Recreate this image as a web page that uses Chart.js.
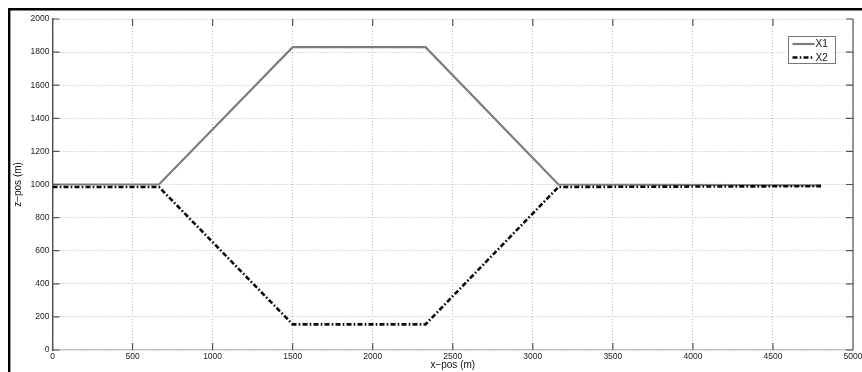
<!DOCTYPE html>
<html>
<head>
<meta charset="utf-8">
<title>Trajectory z-pos vs x-pos</title>
<script src="https://cdn.jsdelivr.net/npm/chart.js@4/dist/chart.umd.min.js"></script>
<style>
  html, body { margin: 0; padding: 0; background: #fff; }
  #wrap { width: 862px; height: 372px; }
</style>
</head>
<body>
<div id="wrap"><canvas id="plot" width="862" height="372"></canvas></div>
<script>
// Path nodes (x-pos in m) and heights (z-pos in m) for each track
const xNodesX1 = [0, 665, 1500, 2330, 3160, 4800];
const zValuesX1 = [1000, 1000, 1830, 1830, 1000, 995];
const xNodesX2 = [0, 665, 1500, 2330, 3160, 4800];
const zValuesX2 = [985, 985, 155, 155, 985, 990];

// Axis tick positions
const xTickValues = [0, 500, 1000, 1500, 2000, 2500, 3000, 3500, 4000, 4500, 5000];
const yTickValues = [0, 200, 400, 600, 800, 1000, 1200, 1400, 1600, 1800, 2000];

const seriesLabels = ['X1', 'X2'];

const FONT = "'Liberation Sans', Arial, Helvetica, sans-serif";

const toPoints = (xs, zs) => xs.map((v, i) => ({ x: v, y: zs[i] }));
const plainNumber = v => String(v);

// White page plus the heavy frame on the left and top edges
const framePlugin = {
  id: 'frame',
  beforeDraw(chart) {
    const { ctx, width, height } = chart;
    ctx.save();
    ctx.fillStyle = '#fff';
    ctx.fillRect(0, 0, width, height);
    ctx.restore();
  },
  afterDraw(chart) {
    const { ctx, width, height } = chart;
    ctx.save();
    ctx.strokeStyle = '#000';
    ctx.lineWidth = 2.4;
    ctx.beginPath();
    ctx.moveTo(9.2, 8);
    ctx.lineTo(9.2, height);
    ctx.moveTo(8, 9.2);
    ctx.lineTo(width, 9.2);
    ctx.stroke();
    ctx.restore();
  }
};

// Inward tick marks on all four sides and the right-hand box edge
const boxTicksPlugin = {
  id: 'boxTicks',
  afterDatasetsDraw(chart) {
    const { ctx, chartArea: { left, right, top, bottom }, scales: { x, y } } = chart;
    const len = 7;
    ctx.save();
    ctx.strokeStyle = '#555';
    ctx.lineWidth = 1.2;
    ctx.beginPath();
    ctx.moveTo(right, top);
    ctx.lineTo(right, bottom);
    x.ticks.forEach(t => {
      const px = x.getPixelForValue(t.value);
      ctx.moveTo(px, bottom);
      ctx.lineTo(px, bottom - len);
      ctx.moveTo(px, top);
      ctx.lineTo(px, top + len);
    });
    y.ticks.forEach(t => {
      const py = y.getPixelForValue(t.value);
      ctx.moveTo(left, py);
      ctx.lineTo(left + len, py);
      ctx.moveTo(right, py);
      ctx.lineTo(right - len, py);
    });
    ctx.stroke();
    ctx.restore();
  }
};

// Boxed legend in the upper-right corner of the plot
const boxLegendPlugin = {
  id: 'boxLegend',
  afterDraw(chart) {
    const { ctx } = chart;
    const bx = 788.5, by = 36.5, bw = 47, bh = 27;
    ctx.save();
    ctx.fillStyle = '#fff';
    ctx.fillRect(bx, by, bw, bh);
    ctx.strokeStyle = '#777';
    ctx.lineWidth = 1;
    ctx.strokeRect(bx, by, bw, bh);
    chart.data.datasets.forEach((ds, i) => {
      const cy = by + 7.5 + i * 13.5;
      ctx.strokeStyle = ds.borderColor;
      ctx.lineWidth = ds.borderWidth;
      ctx.setLineDash(ds.borderDash || []);
      ctx.beginPath();
      ctx.moveTo(bx + 4, cy);
      ctx.lineTo(bx + 26, cy);
      ctx.stroke();
      ctx.setLineDash([]);
      ctx.fillStyle = '#111';
      ctx.font = '10px ' + FONT;
      ctx.textBaseline = 'middle';
      ctx.textAlign = 'left';
      ctx.fillText(ds.label, bx + 27, cy + 0.5);
    });
    ctx.restore();
  }
};

new Chart(document.getElementById('plot'), {
  type: 'line',
  data: {
    datasets: [
      {
        label: seriesLabels[0],
        data: toPoints(xNodesX1, zValuesX1),
        borderColor: '#7d7d7d',
        borderWidth: 2.2,
        pointRadius: 0,
        fill: false,
        tension: 0,
        order: 1
      },
      {
        label: seriesLabels[1],
        data: toPoints(xNodesX2, zValuesX2),
        borderColor: '#0a0a0a',
        borderWidth: 2.6,
        borderDash: [5, 2.2, 1.6, 2.2],
        pointRadius: 0,
        fill: false,
        tension: 0,
        order: 0
      }
    ]
  },
  options: {
    responsive: false,
    animation: false,
    devicePixelRatio: 1,
    layout: { padding: { left: 9, top: 19, right: 9, bottom: 0 } },
    plugins: {
      legend: { display: false },
      tooltip: { enabled: false }
    },
    scales: {
      x: {
        type: 'linear',
        min: 0,
        max: 5000,
        afterBuildTicks(scale) { scale.ticks = xTickValues.map(v => ({ value: v })); },
        afterFit(scale) {
          scale.height = 22;
          scale.paddingLeft = 0;
          scale.paddingRight = 0;
        },
        ticks: {
          autoSkip: false,
          maxRotation: 0,
          padding: 2,
          color: '#222',
          font: { family: FONT, size: 8.5, lineHeight: 1 },
          callback: plainNumber
        },
        grid: {
          color: '#bcbcbc',
          lineWidth: 1,
          drawTicks: false
        },
        border: { display: true, color: '#c4c4c4', width: 1.2, dash: [1, 2] },
        title: {
          display: true,
          text: 'x\u2212pos (m)',
          color: '#111',
          font: { family: FONT, size: 10, lineHeight: 1 },
          padding: { top: 0, bottom: 1.5 }
        }
      },
      y: {
        type: 'linear',
        min: 0,
        max: 2000,
        afterBuildTicks(scale) { scale.ticks = yTickValues.map(v => ({ value: v })); },
        afterFit(scale) {
          scale.width = 43.5;
          scale.paddingTop = 0;
          scale.paddingBottom = 0;
        },
        ticks: {
          autoSkip: false,
          padding: 3,
          color: '#222',
          font: { family: FONT, size: 8.5 },
          callback: plainNumber
        },
        grid: {
          color: '#bcbcbc',
          lineWidth: 1,
          drawTicks: false
        },
        border: { display: true, color: '#4a4a4a', width: 1.4, dash: [1, 2] },
        title: {
          display: true,
          text: 'z\u2212pos (m)',
          color: '#111',
          font: { family: FONT, size: 10 },
          padding: { top: 3.5, bottom: 0 }
        }
      }
    }
  },
  plugins: [framePlugin, boxTicksPlugin, boxLegendPlugin]
});
</script>
</body>
</html>
